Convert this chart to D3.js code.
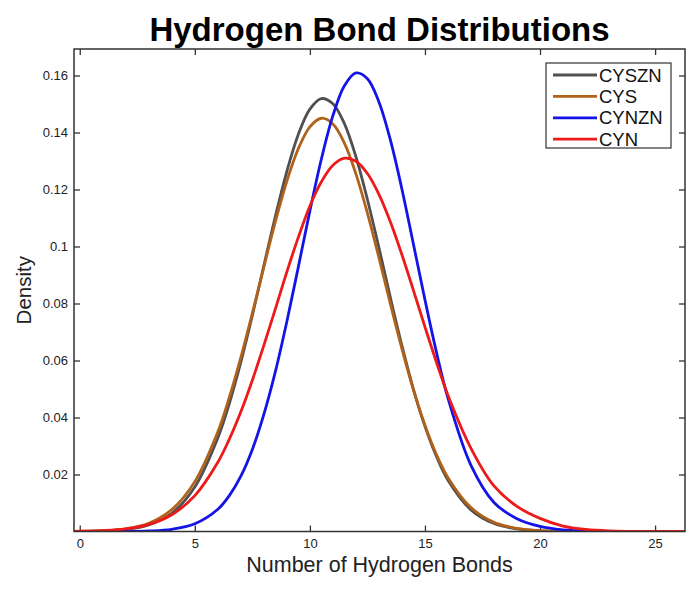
<!DOCTYPE html>
<html>
<head>
<meta charset="utf-8">
<script src="https://cdn.jsdelivr.net/npm/d3@7"></script>
<style>
  body { margin: 0; background: #fff; }
  svg text { font-family: "Liberation Sans", Arial, sans-serif; }
</style>
</head>
<body>
<div id="chart"></div>
<script>
// x positions (number of hydrogen bonds) where the curves were read
const xs = [-0.25, 0, 1, 2, 3, 4, 5, 6, 6.5, 7, 7.5, 8, 8.5, 9, 9.5, 10, 10.5, 11, 11.5, 12,
  12.5, 13, 13.5, 14, 14.5, 15, 15.5, 16, 17, 18, 19, 20, 21, 22, 23, 24, 25, 26, 26.3];

// density values, one array per series
const cyszn = [0.00003, 0.00004, 0.00019, 0.0007, 0.0023, 0.0064, 0.0156, 0.0328, 0.0449, 0.0594, 0.0758,
  0.0933, 0.1106, 0.1264, 0.1394, 0.1482, 0.1519, 0.1501, 0.1431, 0.1315, 0.1165, 0.0996, 0.0820, 0.0652,
  0.0499, 0.0369, 0.0263, 0.0180, 0.0076, 0.0028, 0.0009, 0.00024, 0.00006, 0.00001, 0, 0, 0, 0, 0];
const cys = [0.00005, 0.00007, 0.00028, 0.00096, 0.0029, 0.0077, 0.0175, 0.0350, 0.0471, 0.0611, 0.0766,
  0.0928, 0.1087, 0.1230, 0.1344, 0.1420, 0.1450, 0.1430, 0.1363, 0.1255, 0.1117, 0.0961, 0.0798, 0.0641,
  0.0497, 0.0373, 0.0270, 0.0189, 0.0084, 0.0032, 0.0011, 0.0003, 0.00008, 0.00002, 0, 0, 0, 0, 0];
const cynzn = [0, 0.000001, 0.000007, 0.00004, 0.00019, 0.00078, 0.0027, 0.0078, 0.0126, 0.0194, 0.0288,
  0.0411, 0.0561, 0.0737, 0.0929, 0.1125, 0.1307, 0.1459, 0.1564, 0.1609, 0.1589, 0.1507, 0.1373, 0.1201,
  0.1008, 0.0813, 0.0629, 0.0468, 0.0232, 0.0102, 0.0045, 0.0018, 0.0006, 0.0002, 0.00005, 0, 0, 0, 0];
const cyn = [0.00007, 0.00009, 0.00031, 0.00092, 0.0025, 0.0059, 0.0126, 0.0243, 0.0324, 0.0420, 0.0531,
  0.0653, 0.0781, 0.0911, 0.1033, 0.1142, 0.1227, 0.1285, 0.1310, 0.1299, 0.1256, 0.1183, 0.1086, 0.0971,
  0.0846, 0.0718, 0.0594, 0.0478, 0.0292, 0.0160, 0.0088, 0.0046, 0.0019, 0.0007, 0.0002, 0.00005, 0, 0, 0];

const seriesNames = ["CYSZN", "CYS", "CYNZN", "CYN"];
const seriesValues = [cyszn, cys, cynzn, cyn];
const seriesColors = ["#505050", "#b0621a", "#1414e6", "#ee1a1a"];

const xTicks = [0, 5, 10, 15, 20, 25];
const xTickLabels = ["0", "5", "10", "15", "20", "25"];
const yTicks = [0.02, 0.04, 0.06, 0.08, 0.1, 0.12, 0.14, 0.16];
const yTickLabels = ["0.02", "0.04", "0.06", "0.08", "0.1", "0.12", "0.14", "0.16"];

// --- layout ---
const W = 700, H = 592;
const plotL = 74, plotR = 685, plotT = 49, plotB = 531.5;

const svg = d3.select("#chart").append("svg")
  .attr("width", W)
  .attr("height", H);

const x = d3.scaleLinear().domain([-0.25, 26.3]).range([plotL, plotR]);
const y = d3.scaleLinear().domain([0, 0.1693]).range([plotB, plotT]);

// clip the curves to the axes box
svg.append("clipPath").attr("id", "box")
  .append("rect")
    .attr("x", plotL).attr("y", plotT - 2)
    .attr("width", plotR - plotL).attr("height", plotB - plotT + 2);

// --- axes (ticks pointing inward, on all four sides) ---
const axisColor = "#333";
const tick = 6;

const xAxis = svg.append("g")
  .attr("transform", `translate(0,${plotB})`)
  .call(d3.axisBottom(x).tickValues(xTicks).tickFormat((d, i) => xTickLabels[i])
    .tickSizeInner(-tick).tickSizeOuter(0).tickPadding(7.5));
const xTop = svg.append("g")
  .attr("transform", `translate(0,${plotT})`)
  .call(d3.axisTop(x).tickValues(xTicks).tickFormat("").tickSizeInner(-tick).tickSizeOuter(0));
const yAxis = svg.append("g")
  .attr("transform", `translate(${plotL},0)`)
  .call(d3.axisLeft(y).tickValues(yTicks).tickFormat((d, i) => yTickLabels[i])
    .tickSizeInner(-tick).tickSizeOuter(0).tickPadding(6));
const yRight = svg.append("g")
  .attr("transform", `translate(${plotR},0)`)
  .call(d3.axisRight(y).tickValues(yTicks).tickFormat("").tickSizeInner(-tick).tickSizeOuter(0));

[xAxis, xTop, yAxis, yRight].forEach(g => {
  g.select(".domain").remove();
  g.selectAll("line").attr("stroke", axisColor).attr("stroke-width", 1.3);
  g.selectAll("text").attr("fill", "#222").style("font-size", "13px");
});
xAxis.selectAll("text").attr("dy", "0.71em");

// --- curves ---
const line = d3.line()
  .x((d, i) => x(xs[i]))
  .y(d => y(d))
  .curve(d3.curveCatmullRom.alpha(0.5));

svg.append("g").attr("clip-path", "url(#box)")
  .selectAll("path")
  .data(seriesValues)
  .join("path")
    .attr("d", d => line(d))
    .attr("fill", "none")
    .attr("stroke", (d, i) => seriesColors[i])
    .attr("stroke-width", 2.8)
    .attr("stroke-linejoin", "round");

// axes box on top
svg.append("rect")
  .attr("x", plotL).attr("y", plotT)
  .attr("width", plotR - plotL).attr("height", plotB - plotT)
  .attr("fill", "none")
  .attr("stroke", axisColor)
  .attr("stroke-width", 1.5);

// --- legend ---
const lg = svg.append("g").attr("transform", "translate(546,63)");
lg.append("rect")
  .attr("width", 125).attr("height", 85)
  .attr("fill", "#fff")
  .attr("stroke", axisColor)
  .attr("stroke-width", 1.2);
const item = lg.selectAll("g.item")
  .data(seriesNames)
  .join("g")
    .attr("class", "item")
    .attr("transform", (d, i) => `translate(0,${12 + i * 21.4})`);
item.append("line")
  .attr("x1", 7).attr("x2", 51)
  .attr("stroke", (d, i) => seriesColors[i])
  .attr("stroke-width", 2.8);
item.append("text")
  .attr("x", 53).attr("dy", "0.36em")
  .style("font-size", "18.5px")
  .attr("fill", "#111")
  .text(d => d);

// --- titles ---
svg.append("text")
  .attr("x", (plotL + plotR) / 2).attr("y", 41)
  .attr("text-anchor", "middle")
  .style("font-size", "33px").style("font-weight", "bold")
  .attr("fill", "#000")
  .text("Hydrogen Bond Distributions");

svg.append("text")
  .attr("x", (plotL + plotR) / 2).attr("y", 572)
  .attr("text-anchor", "middle")
  .style("font-size", "21.5px")
  .attr("fill", "#222")
  .text("Number of Hydrogen Bonds");

svg.append("text")
  .attr("transform", `translate(31,${(plotT + plotB) / 2}) rotate(-90)`)
  .attr("text-anchor", "middle")
  .style("font-size", "20.5px")
  .attr("fill", "#222")
  .text("Density");
</script>
</body>
</html>
